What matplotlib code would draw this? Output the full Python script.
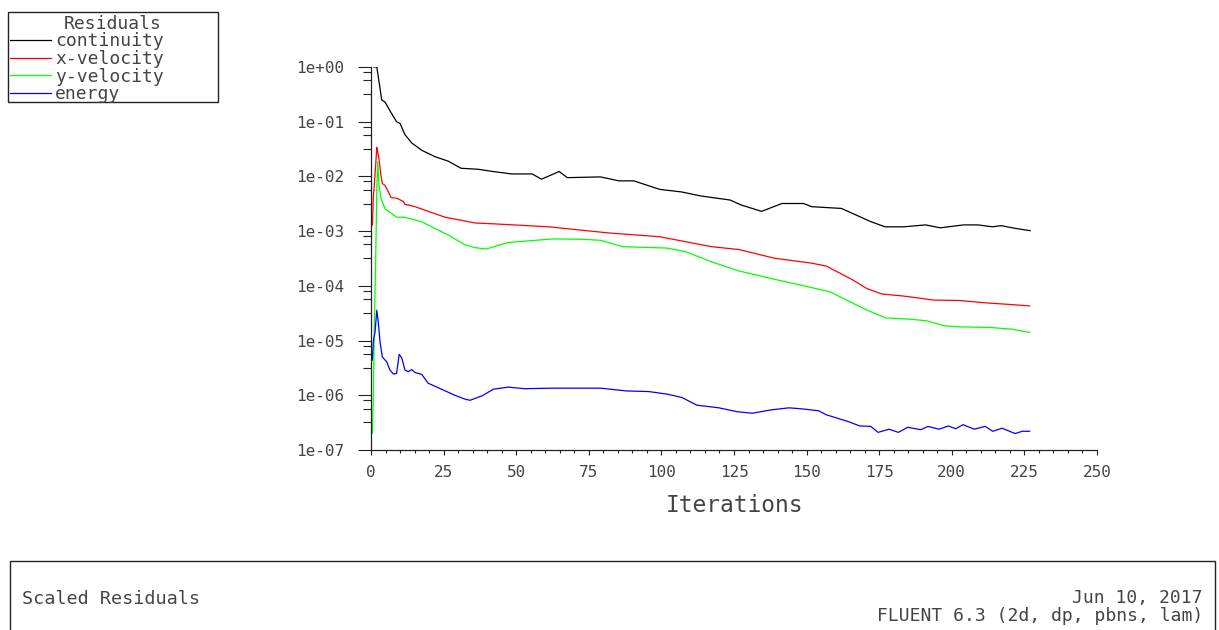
"""Fluent style scaled residuals plot."""

import matplotlib
matplotlib.use("Agg")
import matplotlib.pyplot as plt
from matplotlib.lines import Line2D
from matplotlib.patches import Rectangle
from matplotlib.ticker import LogLocator, MultipleLocator, FuncFormatter

# residual histories
continuity_it = [1, 2, 3.7, 4.8, 6.5, 8.8, 10, 11.7, 14, 17.5, 22, 26.6, 31, 37, 42,
                 48.5, 55.5, 58.7, 64.8, 67.6, 79, 85.4, 90.5, 99.4, 107, 113.5, 123.7,
                 127.5, 134.5, 141.5, 149, 151.7, 162, 172, 177, 183.5, 191, 196, 204,
                 209, 214, 217, 222, 227]
continuity = [1.0, 1.0, 0.25, 0.23, 0.16, 0.10, 0.093, 0.058, 0.041, 0.030, 0.023,
              0.019, 0.0141, 0.0135, 0.0123, 0.0111, 0.0111, 0.0089, 0.0123, 0.0095,
              0.0098, 0.0083, 0.0083, 0.0058, 0.0052, 0.0044, 0.0037, 0.0030, 0.0023,
              0.0032, 0.0032, 0.0028, 0.0026, 0.0015, 0.0012, 0.0012, 0.0013, 0.00115,
              0.0013, 0.0013, 0.0012, 0.00126, 0.00112, 0.00102]

xvel_it = [0.5, 0.8, 1.1, 1.6, 2.0, 2.3, 2.75, 3.4, 3.9, 4.8, 6.0, 6.9, 8.8, 11.1, 11.7,
           15.2, 19.7, 25.5, 28.9, 35.8, 43.4, 61.2, 81.6, 99.4, 117.3, 126.8, 138.9,
           151.7, 156.8, 165.7, 170.8, 175.9, 183.5, 193.7, 202.6, 211.5, 219.2, 226.8]
xvel = [1.3e-3, 4.3e-3, 6.5e-3, 1.6e-2, 3.4e-2, 2.8e-2, 2.1e-2, 1.07e-2, 7.4e-3, 6.9e-3,
        5.2e-3, 4.1e-3, 4.0e-3, 3.5e-3, 3.1e-3, 2.8e-3, 2.3e-3, 1.8e-3, 1.66e-3, 1.41e-3,
        1.35e-3, 1.2e-3, 9.3e-4, 7.9e-4, 5.2e-4, 4.6e-4, 3.2e-4, 2.6e-4, 2.3e-4, 1.3e-4,
        8.9e-5, 7.1e-5, 6.5e-5, 5.5e-5, 5.4e-5, 4.9e-5, 4.6e-5, 4.3e-5]

yvel_it = [0.45, 0.8, 1.1, 1.6, 2.0, 2.3, 2.75, 3.4, 4.8, 6.0, 8.8, 11.1, 13.4, 17.5, 22,
           26.6, 32.4, 35.8, 39.6, 47.2, 62.5, 72.7, 79.1, 86.7, 102, 108.4, 117.3, 126.2,
           138.9, 149.1, 158, 165.7, 170.8, 177.2, 186.1, 191.2, 197.6, 202.6, 212.8,
           220.5, 226.8]
yvel = [2.0e-7, 8.7e-7, 1.45e-5, 2.6e-4, 6.0e-3, 1.86e-2, 6.9e-3, 4.0e-3, 2.6e-3, 2.3e-3,
        1.8e-3, 1.8e-3, 1.7e-3, 1.48e-3, 1.12e-3, 8.5e-4, 5.6e-4, 5.0e-4, 4.7e-4, 6.2e-4,
        7.2e-4, 7.1e-4, 6.8e-4, 5.2e-4, 4.9e-4, 4.2e-4, 2.75e-4, 1.9e-4, 1.32e-4, 1.0e-4,
        7.8e-5, 4.9e-5, 3.6e-5, 2.6e-5, 2.45e-5, 2.3e-5, 1.86e-5, 1.78e-5, 1.74e-5,
        1.62e-5, 1.41e-5]

energy_it = [0.45, 0.8, 1.4, 2.0, 2.5, 3.1, 3.9, 5.4, 6.5, 7.7, 8.8, 9.7, 10.6, 11.7,
             12.8, 14.0, 15.2, 17.5, 19.7, 24.3, 28.9, 32.4, 34.1, 38.3, 42.1, 47.2,
             52.9, 62.5, 79.1, 88, 95.6, 102, 107.1, 112.2, 119.8, 126.2, 131.3, 137.6,
             144, 149.1, 154.2, 156.8, 164.4, 168.3, 172.1, 174.6, 178.4, 181.6, 184.8,
             189.3, 191.8, 195.6, 198.8, 201.3, 203.9, 207.7, 211.5, 214.1, 217.3,
             221.8, 224.3, 226.8]
energy = [4.4e-6, 9.5e-6, 1.45e-5, 3.6e-5, 2.2e-5, 9.5e-6, 5.0e-6, 4.1e-6, 2.9e-6,
          2.45e-6, 2.5e-6, 5.6e-6, 4.8e-6, 2.9e-6, 2.7e-6, 2.95e-6, 2.6e-6, 2.4e-6,
          1.66e-6, 1.29e-6, 1.0e-6, 8.5e-7, 8.1e-7, 9.8e-7, 1.29e-6, 1.41e-6, 1.32e-6,
          1.35e-6, 1.35e-6, 1.2e-6, 1.17e-6, 1.05e-6, 9.1e-7, 6.6e-7, 5.9e-7, 5.0e-7,
          4.7e-7, 5.4e-7, 5.9e-7, 5.6e-7, 5.2e-7, 4.4e-7, 3.3e-7, 2.75e-7, 2.7e-7,
          2.1e-7, 2.4e-7, 2.1e-7, 2.6e-7, 2.35e-7, 2.7e-7, 2.4e-7, 2.75e-7, 2.45e-7,
          2.9e-7, 2.4e-7, 2.7e-7, 2.2e-7, 2.5e-7, 2.0e-7, 2.2e-7, 2.2e-7]

labels = ["continuity", "x-velocity", "y-velocity", "energy"]
colors = ["#000000", "#ff0000", "#00ff00", "#0000ff"]

W, H = 1219, 630
FONT = "DejaVu Sans Mono"
TXT = "#444444"


def fx(x):
    return x / W


def fy(y):
    return 1 - y / H


fig = plt.figure(figsize=(W / 100, H / 100), dpi=100)
ax = fig.add_axes([fx(371), fy(450), (1097 - 371) / W, (450 - 67) / H])

series = [(continuity_it, continuity), (xvel_it, xvel), (yvel_it, yvel), (energy_it, energy)]
for (it, res), c in zip(series, colors):
    ax.plot(it, res, color=c, lw=0.9)

ax.set_yscale("log")
ax.set_ylim(1e-7, 1)
ax.set_xlim(0, 250)
ax.yaxis.set_major_locator(LogLocator(base=10, numticks=12))
ax.yaxis.set_minor_locator(LogLocator(base=10, subs=(3.2, 5.7, 8.1), numticks=12))
ax.yaxis.set_major_formatter(FuncFormatter(lambda v, p: f"{v:.0e}"))
ax.xaxis.set_major_locator(MultipleLocator(25))
ax.xaxis.set_minor_locator(MultipleLocator(5))

for s in ("top", "right"):
    ax.spines[s].set_visible(False)
for s in ("left", "bottom"):
    ax.spines[s].set_color("#222222")
    ax.spines[s].set_linewidth(0.9)

ax.tick_params(axis="y", which="major", direction="out", length=9.4, width=0.8,
               color="#222222", pad=10)
ax.tick_params(axis="y", which="minor", direction="out", length=5.8, width=0.8,
               color="#222222")
ax.tick_params(axis="x", which="major", direction="out", length=3.6, width=0.8,
               color="#222222", pad=7)
ax.tick_params(axis="x", which="minor", direction="out", length=2.2, width=0.8,
               color="#222222")
for lab in ax.get_xticklabels() + ax.get_yticklabels():
    lab.set_fontfamily(FONT)
    lab.set_fontsize(11.5)
    lab.set_color(TXT)

ax.set_xlabel("Iterations", fontfamily=FONT, fontsize=16.5, color=TXT, labelpad=10)

# legend box, drawn like the solver's own
fig.add_artist(Rectangle((fx(8), fy(102)), (218 - 8) / W, (102 - 12) / H,
                         transform=fig.transFigure, fill=False, ec="#222222", lw=1))
fig.text(fx(113), fy(29), "Residuals", ha="center", va="baseline",
         fontfamily=FONT, fontsize=13, color=TXT)
for i, (lab, c) in enumerate(zip(labels, colors)):
    base = 46.5 + 17.6 * i
    fig.add_artist(Line2D([fx(10), fx(51)], [fy(base - 6.5)] * 2,
                          transform=fig.transFigure, color=c, lw=0.9))
    fig.text(fx(55), fy(base), lab, ha="left", va="baseline",
             fontfamily=FONT, fontsize=13, color=TXT)

# title block at the bottom
fig.add_artist(Rectangle((fx(10), fy(650)), (1215 - 10) / W, (650 - 561) / H,
                         transform=fig.transFigure, fill=False, ec="#222222", lw=1))
fig.text(fx(22), fy(604), "Scaled Residuals", ha="left", va="baseline",
         fontfamily=FONT, fontsize=13.3, color=TXT)
fig.text(fx(1203), fy(603), "Jun 10, 2017", ha="right", va="baseline",
         fontfamily=FONT, fontsize=13, color=TXT)
fig.text(fx(1203), fy(621), "FLUENT 6.3 (2d, dp, pbns, lam)", ha="right", va="baseline",
         fontfamily=FONT, fontsize=13, color=TXT)

fig.savefig("out.png", dpi=100)
